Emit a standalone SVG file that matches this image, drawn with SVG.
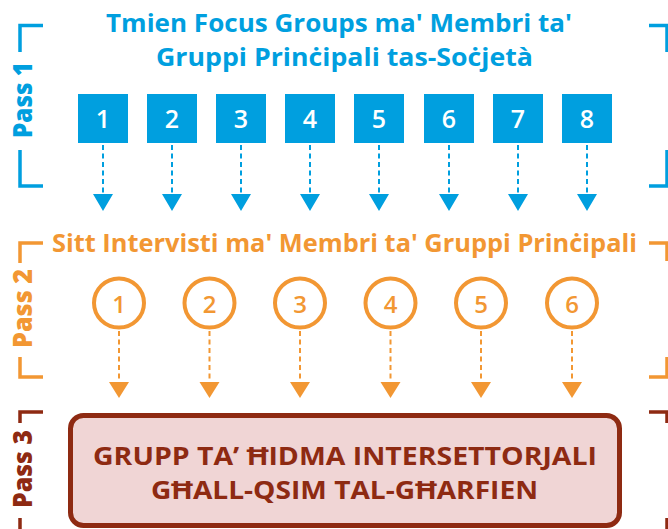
<svg xmlns="http://www.w3.org/2000/svg" width="668" height="529" viewBox="0 0 668 529">
<defs>
<style>
text{font-family:"Open Sans","Noto Sans","Liberation Sans",sans-serif;}
.b{fill:#009FDF}
.o{fill:#F29733}
.r{fill:#8E2A12}
.bs{stroke:#009FDF}
.os{stroke:#F29733}
.rs{stroke:#8E2A12}
.br{fill:none;stroke-width:3.5}
.dash{fill:none;stroke-width:2;stroke-dasharray:5 3.5}
.ttl{font-weight:700;font-size:25px;text-anchor:middle}
.pass{font-weight:800;font-size:27px;text-anchor:middle}
.sq{fill:#009FDF}
.sqt{fill:#fff;font-size:25px;font-weight:600;text-anchor:middle}
.cir{fill:#fff;stroke:#F29733;stroke-width:4}
.cit{fill:#F29733;font-size:24px;font-weight:600;text-anchor:middle}
</style>
</defs>

<g id="brackets">
<path class="br bs" d="M43,25.5 H20 V52 M20,150 V186 H43 M649,25.5 H667 V52 M667,150 V186 H649"/>
<path class="br os" d="M43,243 H20 V263 M20,357 V377 H43 M649,243 H667 V261 M667,357 V377 H649"/>
<path class="br rs" d="M43,412 H20 V423 M20,518 V529 M649,412 H667 V423 M667,518 V529"/>
</g>

<g id="pass-labels">
<text class="pass b" transform="translate(31.5,100) rotate(-90)" textLength="76" lengthAdjust="spacingAndGlyphs">Pass 1</text>
<text class="pass o" transform="translate(31.5,308.5) rotate(-90)" textLength="79" lengthAdjust="spacingAndGlyphs">Pass 2</text>
<text class="pass r" transform="translate(31.5,469) rotate(-90)" textLength="78" lengthAdjust="spacingAndGlyphs">Pass 3</text>
</g>

<g id="title-pass1">
<text class="ttl b" x="339" y="32" textLength="466" lengthAdjust="spacingAndGlyphs">Tmien Focus Groups ma' Membri ta'</text>
<text class="ttl b" x="344.5" y="66" textLength="377" lengthAdjust="spacingAndGlyphs">Gruppi Prinċipali tas-Soċjetà</text>
</g>

<g id="title-pass2">
<text class="ttl o" x="344.5" y="252" textLength="585" lengthAdjust="spacingAndGlyphs">Sitt Intervisti ma' Membri ta' Gruppi Prinċipali</text>
</g>

<g id="fg1"><rect class="sq" x="78" y="94" width="50" height="49"/><text class="sqt" x="103" y="128">1</text></g>
<g id="fg2"><rect class="sq" x="147" y="94" width="50" height="49"/><text class="sqt" x="172" y="128">2</text></g>
<g id="fg3"><rect class="sq" x="216" y="94" width="50" height="49"/><text class="sqt" x="241" y="128">3</text></g>
<g id="fg4"><rect class="sq" x="285" y="94" width="50" height="49"/><text class="sqt" x="310" y="128">4</text></g>
<g id="fg5"><rect class="sq" x="354" y="94" width="50" height="49"/><text class="sqt" x="379" y="128">5</text></g>
<g id="fg6"><rect class="sq" x="424" y="94" width="50" height="49"/><text class="sqt" x="449" y="128">6</text></g>
<g id="fg7"><rect class="sq" x="493" y="94" width="50" height="49"/><text class="sqt" x="518" y="128">7</text></g>
<g id="fg8"><rect class="sq" x="562" y="94" width="50" height="49"/><text class="sqt" x="587" y="128">8</text></g>

<g id="iv1"><ellipse class="cir" cx="119" cy="303" rx="25" ry="24.5"/><text class="cit" x="119" y="312.5">1</text></g>
<g id="iv2"><ellipse class="cir" cx="209.5" cy="303" rx="25" ry="24.5"/><text class="cit" x="209.5" y="312.5">2</text></g>
<g id="iv3"><ellipse class="cir" cx="300" cy="303" rx="25" ry="24.5"/><text class="cit" x="300" y="312.5">3</text></g>
<g id="iv4"><ellipse class="cir" cx="390.5" cy="303" rx="25" ry="24.5"/><text class="cit" x="390.5" y="312.5">4</text></g>
<g id="iv5"><ellipse class="cir" cx="481" cy="303" rx="25" ry="24.5"/><text class="cit" x="481" y="312.5">5</text></g>
<g id="iv6"><ellipse class="cir" cx="572" cy="303" rx="25" ry="24.5"/><text class="cit" x="572" y="312.5">6</text></g>

<g id="intersectoral-group">
<rect x="70.5" y="415.5" width="549" height="110" rx="13" fill="#F0D5D5" stroke="#8E2A12" stroke-width="5"/>
<text class="ttl r" x="345" y="465" textLength="504" lengthAdjust="spacingAndGlyphs">GRUPP TA’ ĦIDMA INTERSETTORJALI</text>
<text class="ttl r" x="344.5" y="499" textLength="387" lengthAdjust="spacingAndGlyphs">GĦALL-QSIM TAL-GĦARFIEN</text>
</g>

<g id="connectors">
<g class="dash bs">
<path d="M103,145 V194 M172,145 V194 M241,145 V194 M310,145 V194 M379,145 V194 M449,145 V194 M518,145 V194 M587,145 V194"/>
</g>
<g class="b">
<path d="M93,194 H113 L103,211 Z M162,194 H182 L172,211 Z M231,194 H251 L241,211 Z M300,194 H320 L310,211 Z M369,194 H389 L379,211 Z M439,194 H459 L449,211 Z M508,194 H528 L518,211 Z M577,194 H597 L587,211 Z"/>
</g>
<g class="dash os">
<path d="M119,331 V382 M209.5,331 V382 M300,331 V382 M390.5,331 V382 M481,331 V382 M572,331 V382"/>
</g>
<g class="o">
<path d="M109,382 H129 L119,398 Z M199.5,382 H219.5 L209.5,398 Z M290,382 H310 L300,398 Z M380.5,382 H400.5 L390.5,398 Z M471,382 H491 L481,398 Z M562,382 H582 L572,398 Z"/>
</g>
</g>
</svg>
